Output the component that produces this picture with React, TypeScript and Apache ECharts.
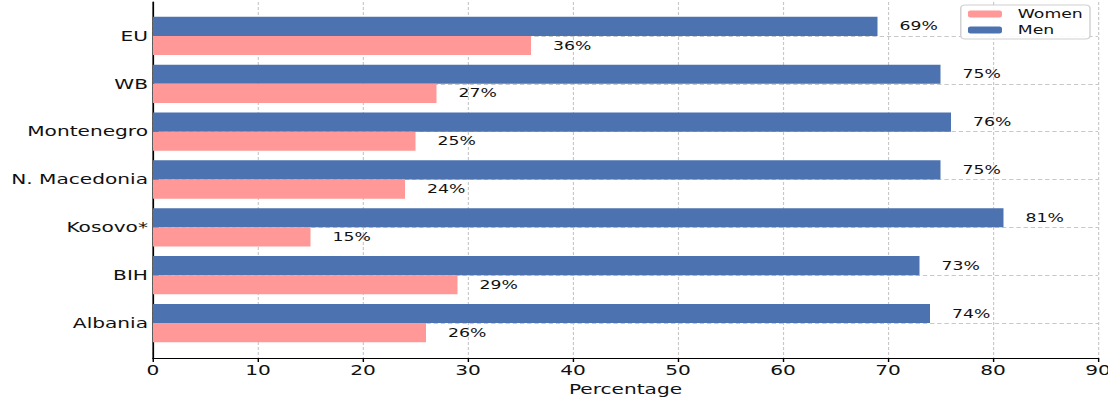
import React, { useEffect, useRef } from "react";
import * as echarts from "echarts";

const categories = ["Albania", "BIH", "Kosovo*", "N. Macedonia", "Montenegro", "WB", "EU"];
const women = [26, 29, 15, 24, 25, 27, 36];
const men = [74, 73, 81, 75, 76, 75, 69];
const xTicks = [0, 10, 20, 30, 40, 50, 60, 70, 80, 90];

const FONT = "DejaVu Sans";
const W = 1108;
const H = 399;
const BASE_W = 770;
const S = W / BASE_W;

export default function App() {
  const ref = useRef<HTMLDivElement>(null);
  useEffect(() => {
    document.body.style.margin = "0";
    const chart = echarts.init(ref.current!, null, { renderer: "svg" });
    const labelCfg = {
      show: true,
      position: "right",
      distance: 22 / S,
      formatter: (p: any) => `${p.value}%`,
      color: "#111",
      fontFamily: FONT,
      fontSize: 12,
    };
    const left = 153 / S;
    const right = 10 / S;
    chart.setOption({
      animation: false,
      backgroundColor: "#fff",
      textStyle: { fontFamily: FONT },
      grid: [
        { left, right, top: 12, bottom: 52, outerBoundsMode: "none", containLabel: false },
        { left, right, top: 2, bottom: 41, outerBoundsMode: "none", containLabel: false },
      ],
      legend: {
        data: ["Women", "Men"],
        orient: "vertical",
        right: 18 / S,
        top: 5,
        itemWidth: 34 / S,
        itemHeight: 7,
        itemGap: 4,
        padding: [3, 5, 3, 5],
        borderColor: "#d0d0d0",
        borderWidth: 1,
        borderRadius: 3,
        backgroundColor: "rgba(255,255,255,0.9)",
        textStyle: { fontFamily: FONT, fontSize: 12, color: "#111", padding: [0, 0, 0, 6] },
      },
      xAxis: [
        { gridIndex: 0, type: "value", min: 0, max: 90, interval: 10, show: false },
        {
          gridIndex: 1,
          type: "value",
          min: xTicks[0],
          max: xTicks[xTicks.length - 1],
          interval: 10,
          name: "Percentage",
          nameLocation: "middle",
          nameGap: 24,
          nameTextStyle: { fontFamily: FONT, fontSize: 14, color: "#111" },
          axisLine: { show: true, lineStyle: { color: "#000", width: 1.2 } },
          axisTick: { show: true, length: 4, lineStyle: { color: "#000" } },
          axisLabel: { fontFamily: FONT, fontSize: 14, color: "#111", margin: 5, showMaxLabel: true },
          splitLine: { show: true, lineStyle: { color: "#c8c8c8", type: [3, 2], width: 0.8 } },
        },
      ],
      yAxis: [
        {
          gridIndex: 0,
          type: "category",
          data: categories,
          axisLine: { show: false },
          axisTick: { show: true, alignWithLabel: true, inside: true, length: 4, lineStyle: { color: "#333" } },
          axisLabel: { fontFamily: FONT, fontSize: 14, color: "#111", margin: 5 / S },
          splitLine: { show: true, alignWithLabel: true, lineStyle: { color: "#c8c8c8", type: [3, 2], width: 0.8 } },
        },
        {
          gridIndex: 1,
          type: "value",
          min: 0,
          max: 1,
          axisLine: { show: true, lineStyle: { color: "#000", width: 1.2 } },
          axisTick: { show: false },
          axisLabel: { show: false },
          splitLine: { show: false },
        },
      ],
      series: [
        {
          name: "Men",
          type: "bar",
          xAxisIndex: 0,
          yAxisIndex: 0,
          data: men,
          barGap: "0%",
          barCategoryGap: "20%",
          itemStyle: { color: "#4c72b0" },
          label: labelCfg,
        },
        {
          name: "Women",
          type: "bar",
          xAxisIndex: 0,
          yAxisIndex: 0,
          data: women,
          barGap: "0%",
          barCategoryGap: "20%",
          itemStyle: { color: "#ff9896" },
          label: labelCfg,
        },
      ],
    });
    return () => chart.dispose();
  }, []);
  return (
    <div style={{ width: W, height: H, overflow: "hidden" }}>
      <div
        ref={ref}
        style={{ width: BASE_W, height: H, transform: `scaleX(${S})`, transformOrigin: "0 0" }}
      />
    </div>
  );
}
